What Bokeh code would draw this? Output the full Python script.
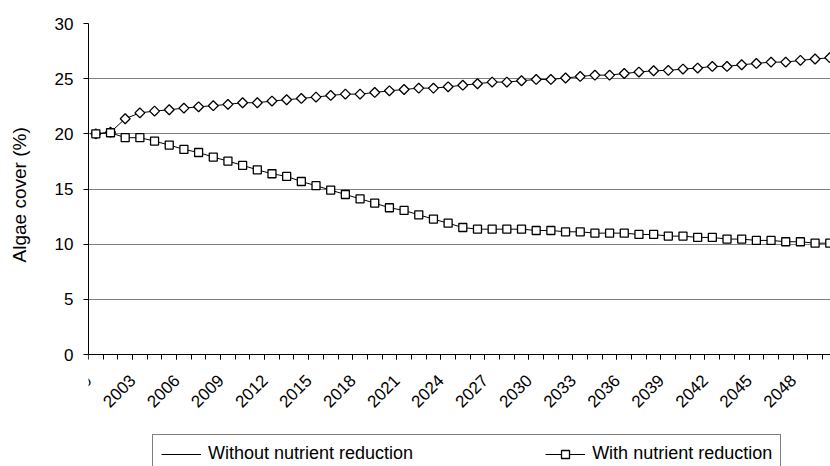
import numpy as np
from bokeh.plotting import figure
from bokeh.models import Range1d, FixedTicker, Legend, LegendItem
from bokeh.embed import file_html
from bokeh.resources import INLINE

years = list(range(2000, 2051))
without_reduction = [20.0, 20.15, 21.37, 21.9, 22.06, 22.18, 22.33, 22.45, 22.55, 22.67,
                     22.82, 22.82, 22.97, 23.09, 23.21, 23.33, 23.48, 23.6, 23.6, 23.75,
                     23.9, 24.02, 24.14, 24.14, 24.26, 24.41, 24.54, 24.69, 24.69, 24.81,
                     24.93, 24.93, 25.06, 25.2, 25.32, 25.32, 25.47, 25.6, 25.72, 25.75,
                     25.87, 25.96, 26.11, 26.11, 26.26, 26.38, 26.5, 26.5, 26.66, 26.78, 26.9]
with_reduction = [20.0, 20.1, 19.65, 19.65, 19.34, 18.98, 18.59, 18.31, 17.89, 17.53,
                  17.14, 16.74, 16.38, 16.14, 15.68, 15.3, 14.9, 14.5, 14.11, 13.72,
                  13.3, 13.06, 12.66, 12.27, 11.9, 11.51, 11.36, 11.36, 11.36, 11.36,
                  11.24, 11.24, 11.12, 11.12, 11.0, 11.0, 11.0, 10.88, 10.88, 10.73,
                  10.73, 10.61, 10.61, 10.46, 10.46, 10.34, 10.34, 10.22, 10.22, 10.09, 10.09]
y_ticks = [0, 5, 10, 15, 20, 25, 30]
label_years = list(range(2000, 2051, 3))
series_names = ["Without nutrient reduction", "With nutrient reduction"]
y_title = "Algae cover (%)"

FONT = "Liberation Sans"

# frame reaches the bottom of the window; the value axis spans 0..30 in its upper part
p = figure(frame_width=742, frame_height=443, output_backend="svg", toolbar_location=None,
           x_range=Range1d(1999.5, 2050.05), y_range=Range1d(-10.151, 30),
           min_border_left=88, min_border_right=0, min_border_top=23, min_border_bottom=0)
p.outline_line_color = None
p.background_fill_color = "white"
p.border_fill_color = "white"

# grid
p.xgrid.visible = False
p.ygrid.ticker = FixedTicker(ticks=y_ticks)
p.ygrid.grid_line_color = "#808080"
p.ygrid.grid_line_width = 1

# y axis
p.yaxis.ticker = FixedTicker(ticks=y_ticks)
p.yaxis.bounds = (0, 30)
p.yaxis.axis_line_color = "black"
p.yaxis.major_tick_line_color = "black"
p.yaxis.major_tick_out = 5
p.yaxis.major_tick_in = 0
p.yaxis.minor_tick_line_color = None
p.yaxis.major_label_standoff = 10
p.yaxis.major_label_text_font = FONT
p.yaxis.major_label_text_font_size = "17px"
p.yaxis.major_label_text_color = "black"
# non-breaking spaces lift the centred title to the middle of the 0..30 span
p.yaxis.axis_label = "\u00a0" * 19 + y_title
p.yaxis.axis_label_text_font = FONT
p.yaxis.axis_label_text_font_size = "19px"
p.yaxis.axis_label_text_font_style = "normal"
p.yaxis.axis_label_text_color = "black"
p.yaxis.axis_label_standoff = 22

# x axis drawn at y = 0: tick marks at category boundaries, rotated labels every 3 years
boundaries = [y - 0.5 for y in years]
label_pos = [y - 0.5 for y in label_years]
p.xaxis.fixed_location = 0
p.xaxis.ticker = FixedTicker(ticks=label_pos, minor_ticks=boundaries)
p.xaxis.major_label_overrides = {pos: str(y) for pos, y in zip(label_pos, label_years)}
p.xaxis.axis_line_color = "black"
p.xaxis.major_tick_line_color = "black"
p.xaxis.minor_tick_line_color = "black"
p.xaxis.major_tick_out = 5
p.xaxis.major_tick_in = 0
p.xaxis.minor_tick_out = 5
p.xaxis.minor_tick_in = 0
p.xaxis.major_label_orientation = np.pi / 4
p.xaxis.major_label_standoff = 18
p.xaxis.major_label_text_font = FONT
p.xaxis.major_label_text_font_size = "17px"
p.xaxis.major_label_text_color = "black"

# series
l1 = p.line(years, without_reduction, line_color="black", line_width=1)
s1 = p.scatter(years, without_reduction, marker="square", angle=np.pi / 4, size=7,
               fill_color="white", line_color="black", line_width=1.3)
l2 = p.line(years, with_reduction, line_color="black", line_width=1)
s2 = p.scatter(years, with_reduction, marker="square", size=8,
               fill_color="white", line_color="black", line_width=1.3)
# legend-only diamond symbol (legend glyphs are drawn unrotated)
d1 = p.scatter(x=[], y=[], marker="diamond", size=10,
               fill_color="white", line_color="black", line_width=1.2)

legend = Legend(items=[LegendItem(label=series_names[0], renderers=[l1, d1]),
                       LegendItem(label=series_names[1], renderers=[l2, s2])],
                orientation="horizontal", location=(64, -7), margin=0,
                padding=8, spacing=132, glyph_width=40, glyph_height=20,
                label_height=20, label_standoff=7,
                label_text_font=FONT, label_text_font_size="18px",
                label_text_color="black",
                border_line_color="black", border_line_width=1,
                background_fill_color="white")
p.add_layout(legend)

open("out.html", "w").write(file_html(p, INLINE))
